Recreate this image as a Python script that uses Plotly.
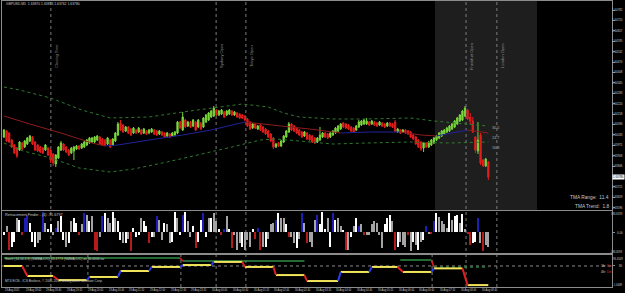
import numpy as np
import plotly.graph_objects as go

SYMBOL = "GBPUSD,M5"
BASE = 1.6  # candle prices stored as points (1e-5) above 1.60000

O_PTS = [4020, 4056, 4044, 4002, 3972, 3954, 3942, 3984, 3960, 3978,
         3996, 4020, 3990, 3972, 3960, 3954, 3942, 3954, 3942, 3918,
         3858, 3894, 3942, 3978, 3960, 3942, 3924, 3936, 3948, 3966,
         3954, 3960, 3972, 3984, 3990, 3990, 4002, 4020, 4008, 4002,
         3978, 4002, 3972, 3996, 4032, 4104, 4092, 4056, 4080, 4068,
         4044, 4062, 4050, 4062, 4044, 4056, 4044, 4050, 4062, 4056,
         4038, 4050, 4044, 4026, 4038, 4026, 4032, 4044, 4110, 4062,
         4122, 4086, 4110, 4086, 4110, 4080, 4104, 4080, 4110, 4122,
         4140, 4146, 4182, 4152, 4158, 4170, 4152, 4158, 4176, 4152,
         4164, 4158, 4152, 4146, 4128, 4110, 4074, 4098, 4068, 4092,
         4080, 4068, 4056, 4038, 4014, 3960, 3984, 3966, 3990, 4020,
         4050, 4098, 4086, 4074, 4062, 4050, 4026, 4044, 4032, 4026,
         4014, 3990, 4002, 4020, 4044, 4038, 4020, 4032, 4044, 4056,
         4068, 4104, 4098, 4092, 4080, 4074, 4062, 4080, 4092, 4098,
         4098, 4110, 4098, 4110, 4104, 4092, 4104, 4098, 4086, 4104,
         4098, 4110, 4050, 4062, 4050, 4062, 4056, 4050, 4032, 4020,
         4002, 3990, 3954, 3984, 3960, 3972, 3984, 4002, 4014, 4026,
         4038, 4050, 4056, 4068, 4080, 4098, 4116, 4122, 4146, 4182,
         4140, 4116, 4020, 3936, 4032, 3882, 3846, 3870]
H_PTS = [4068, 4062, 4050, 4008, 3978, 3960, 3996, 3990, 4002, 4020,
         4032, 4026, 3996, 3978, 3966, 3960, 3978, 3960, 3948, 3924,
         3918, 3966, 3996, 3984, 3966, 3948, 3960, 3966, 3972, 3972,
         3984, 3996, 4008, 4020, 4020, 4026, 4032, 4026, 4014, 4008,
         4020, 4008, 4014, 4050, 4110, 4122, 4098, 4086, 4086, 4074,
         4080, 4068, 4080, 4068, 4074, 4062, 4068, 4074, 4068, 4062,
         4062, 4056, 4050, 4050, 4044, 4050, 4056, 4116, 4116, 4170,
         4128, 4116, 4116, 4128, 4116, 4128, 4110, 4140, 4158, 4170,
         4182, 4206, 4188, 4182, 4188, 4176, 4182, 4188, 4182, 4176,
         4170, 4164, 4158, 4152, 4134, 4116, 4104, 4104, 4092, 4098,
         4086, 4074, 4062, 4044, 4020, 3984, 3990, 4002, 4032, 4062,
         4110, 4104, 4092, 4080, 4068, 4056, 4056, 4050, 4038, 4032,
         4020, 4020, 4080, 4050, 4050, 4044, 4050, 4062, 4080, 4092,
         4104, 4110, 4104, 4098, 4086, 4080, 4092, 4122, 4122, 4128,
         4134, 4116, 4122, 4116, 4110, 4116, 4110, 4104, 4110, 4110,
         4104, 4122, 4074, 4068, 4068, 4068, 4062, 4056, 4038, 4026,
         4008, 3996, 3990, 3990, 3996, 4008, 4020, 4032, 4050, 4062,
         4068, 4080, 4092, 4104, 4122, 4140, 4158, 4182, 4206, 4188,
         4164, 4140, 4026, 4110, 4044, 3888, 3894, 3876]
L_PTS = [4014, 3990, 3984, 3954, 3918, 3894, 3936, 3942, 3954, 3972,
         3990, 3972, 3936, 3930, 3924, 3918, 3936, 3906, 3864, 3846,
         3840, 3888, 3936, 3936, 3924, 3906, 3918, 3882, 3942, 3942,
         3948, 3954, 3966, 3978, 3984, 3984, 3996, 3972, 3966, 3966,
         3972, 3954, 3966, 3990, 4026, 4056, 4044, 4050, 4038, 4026,
         4038, 4038, 4044, 4032, 4038, 4032, 4038, 4044, 4032, 4026,
         4032, 4026, 4014, 4020, 4014, 4020, 4026, 4038, 4068, 4056,
         4074, 4080, 4074, 4080, 4056, 4074, 4062, 4074, 4104, 4116,
         4134, 4140, 4146, 4146, 4152, 4134, 4146, 4152, 4146, 4146,
         4134, 4128, 4128, 4116, 4080, 4062, 4068, 4068, 4062, 4056,
         4044, 4032, 4014, 3990, 3948, 3954, 3960, 3960, 3984, 4014,
         4044, 4056, 4050, 4038, 4026, 4014, 4020, 4002, 3996, 3984,
         3978, 3984, 3996, 4014, 4014, 4008, 4014, 4026, 4038, 4050,
         4062, 4074, 4068, 4062, 4050, 4044, 4056, 4074, 4086, 4092,
         4092, 4086, 4092, 4086, 4080, 4086, 4080, 4074, 4080, 4080,
         4074, 4050, 4044, 4038, 4044, 4038, 4032, 4014, 4002, 3972,
         3954, 3936, 3930, 3954, 3954, 3966, 3978, 3996, 4008, 4020,
         4032, 4044, 4050, 4062, 4074, 4092, 4110, 4116, 4140, 4122,
         4092, 4044, 3924, 3918, 3852, 3840, 3840, 3762]
C_PTS = [4062, 3996, 3990, 3960, 3924, 3906, 3990, 3948, 3996, 4014,
         4026, 3978, 3942, 3936, 3930, 3924, 3972, 3912, 3882, 3864,
         3912, 3960, 3984, 3942, 3930, 3912, 3954, 3960, 3966, 3948,
         3978, 3990, 4002, 4014, 4014, 4020, 4026, 3978, 3972, 3972,
         4014, 3960, 4008, 4044, 4098, 4062, 4050, 4080, 4044, 4032,
         4074, 4044, 4074, 4038, 4068, 4038, 4062, 4068, 4038, 4032,
         4056, 4032, 4020, 4044, 4020, 4044, 4050, 4110, 4074, 4140,
         4080, 4110, 4080, 4122, 4062, 4122, 4068, 4134, 4152, 4164,
         4176, 4194, 4152, 4176, 4182, 4140, 4176, 4182, 4152, 4170,
         4140, 4134, 4134, 4122, 4086, 4068, 4098, 4074, 4086, 4062,
         4050, 4038, 4020, 3996, 3960, 3978, 3966, 3996, 4026, 4056,
         4098, 4062, 4056, 4044, 4032, 4020, 4050, 4008, 4002, 3990,
         3984, 4014, 4032, 4044, 4020, 4014, 4044, 4056, 4074, 4086,
         4098, 4080, 4074, 4068, 4056, 4050, 4086, 4110, 4116, 4122,
         4116, 4092, 4116, 4092, 4086, 4110, 4086, 4080, 4104, 4086,
         4080, 4056, 4068, 4044, 4062, 4044, 4038, 4020, 4008, 3978,
         3960, 3948, 3984, 3960, 3990, 4002, 4014, 4026, 4044, 4056,
         4062, 4074, 4086, 4098, 4116, 4134, 4152, 4176, 4194, 4128,
         4116, 4050, 3942, 4002, 3864, 3846, 3888, 3780]

# TMA bands / centre line (bar index, points above 1.6)
UPPER_IDX = [0, 6, 18, 30, 41, 56, 69, 80, 92, 102, 108, 114, 127, 140, 157, 166, 175, 187]
UPPER_PTS = [4320, 4302, 4254, 4182, 4134, 4140, 4170, 4194, 4218, 4200, 4164, 4140, 4128, 4128, 4134, 4116, 4104, 4086]
LOWER_IDX = [0, 6, 18, 29, 41, 50, 63, 80, 88, 99, 105, 114, 127, 140, 157, 172, 187]
LOWER_PTS = [3984, 3942, 3894, 3834, 3810, 3828, 3870, 3930, 3960, 4002, 4008, 3996, 3978, 3984, 3990, 3984, 3990]
CENTER_IDX = [0, 10, 22, 34, 39, 44, 56, 69, 80, 93, 107, 118, 130, 141, 153, 161, 167, 179, 187]
CENTER_PTS = [4146, 4098, 4044, 3984, 3966, 3972, 4002, 4032, 4062, 4110, 4086, 4068, 4044, 4050, 4050, 4032, 4026, 4062, 4044]

TMA_LEVEL_TEXT = ["30.5", "24.7", "16.8"]
TMA_LEVEL_PTS = [4074, 4014, 3954]
TMA_RANGE = "11.4"
TMA_TREND = "1.8"

PRICE_TICKS = [1.64782, 1.64720, 1.64657, 1.64595, 1.64532, 1.64470, 1.64408, 1.64345,
               1.64283, 1.64220, 1.64158, 1.64096, 1.64033, 1.63971, 1.63908, 1.63846,
               1.63784, 1.63721, 1.63659, 1.63596]

# Retracement Finder histogram
HIST_VALS = [-31, 54, -158, -130, -88, 124, 110, -31, 124, 153,
             82, -88, -130, -102, -74, 181, 82, 25, 68, -31,
             40, 96, 139, -74, -130, -102, 96, 124, 82, -31,
             68, 167, 153, 96, 139, -158, -172, -45, 139, 167,
             124, 82, 181, 124, 96, -74, -102, -102, -59, -172,
             40, -45, -31, 124, 96, 54, -102, -45, -45, 139,
             110, -74, 82, 68, -102, -88, 181, 124, -31, 153,
             181, 96, -45, 54, -144, -88, 110, 167, -45, 124,
             124, 167, 96, 25, -31, 25, 139, 25, -144, -31,
             -158, -102, -130, -158, -74, -130, 25, -59, 40, -158,
             -130, -130, -59, 68, 82, 110, 167, 124, 124, 68,
             -45, -45, -102, -144, -59, 167, 82, -102, -88, -130,
             110, 153, 68, 181, 25, 124, -130, 167, 110, 124,
             54, 11, -158, -158, -45, 54, 124, 54, 68, -31,
             -31, -31, 68, 96, 82, -31, -144, 68, 124, 153,
             96, -158, -130, -88, -116, -130, -31, -172, -88, -116,
             -158, -88, -74, 54, -17, -11, 96, 167, 130, 96,
             68, 40, 167, 110, 139, 153, 82, 158, 25, -17,
             -116, -102, -88, 124, -102, -172, -116, -130]
HIST_KIND = ("WGRWWGWRBB" "WWWGGBGWWG" "BGWWGWGWWR" "GBGWGRRGBW" "GGWGWWGWGR"
             "WWWGWWRWGB" "GGWGGWWGWB" "WGGWRWWBWG" "WGGWRBGWRG" "GGWGGGWRBR"
             "GWGGGBWGGW" "RGGWGBGRGG" "GBWWWGWBWG" "GWRGWGWBGR" "GGGGGGGWWW"
             "GRWGGGRGWG" "WGWBGRBWGG" "GGWGWWGWGR" "RWWBGRGG")
HIST_MAX = 186.6593
HIST_TITLE = "Retracement Finder - (4) -91.6797"

# MTF stochastic steps (bar ranges and levels)
STEP_START = [0, 9, 21, 33, 45, 57, 69, 81, 93, 105, 117, 130, 142, 154, 166, 179]
STEP_END = [7, 19, 32, 44, 56, 68, 80, 92, 104, 116, 129, 141, 152, 165, 177, 187]
STEP_LEVEL = [80, 38, 21, 34, 59, 76, 84, 97, 76, 42, 17, 55, 76, 55, 70, 0]
HTF_START = [0, 69, 153, 166]
HTF_END = [68, 116, 165, 187]
HTF_LEVEL = [113, 101, 105, 76]
STOCH_LEVEL = 80
STOCH_MAX_LABEL = "96.4569"
STOCH_MIN_LABEL = "-1.6469"

SESSIONS = [("Closing Time", 18.1), ("Sydney Open", 81.9), ("Tokyo Open", 93.4),
            ("Frankfurt Open", 178.4), ("London Open", 190.3)]
SHADE = (166.4, 205.8)
STOCH_MARKS = [32.4, 68.3, 165.3]

TIME_LABELS = ["29 Aug 2011", "29 Aug 18:00", "29 Aug 18:40", "29 Aug 19:20", "29 Aug 20:00",
               "29 Aug 20:40", "29 Aug 21:20", "29 Aug 22:00", "29 Aug 22:40", "29 Aug 23:20",
               "30 Aug 00:00", "30 Aug 00:40", "30 Aug 01:20", "30 Aug 02:00", "30 Aug 02:40",
               "30 Aug 03:20", "30 Aug 04:00", "30 Aug 04:40", "30 Aug 05:20", "30 Aug 06:00",
               "30 Aug 06:40", "30 Aug 07:20", "30 Aug 08:00", "30 Aug 08:40"]
TIME_LABEL_EVERY = 8

# ---------------------------------------------------------------
W, H = 625, 293
def py(pix):
    return 1 - pix / H

o = BASE + np.array(O_PTS) / 1e5
hh = BASE + np.array(H_PTS) / 1e5
ll = BASE + np.array(L_PTS) / 1e5
c = BASE + np.array(C_PTS) / 1e5
idx = np.arange(len(o))

XR = [-0.77, 234.75]
XDOM = [2 / W, 612 / W]
DOM_MAIN = [py(210), py(1)]
DOM_HIST = [py(253), py(211)]
DOM_STO = [py(287), py(255)]
YR_MAIN = [1.64842 - 0.00006 * 210, 1.64842 - 0.00006 * 1]
RIGHT_EDGE = 624.6 / W

INC, DEC = "#7ad63c", "#e21e1e"
GRID = "#8c8c8c"
TXT = "#c8c8c8"
FONT = "Liberation Sans"

fig = go.Figure()

# TMA bands
for bx, bp in ((UPPER_IDX, UPPER_PTS), (LOWER_IDX, LOWER_PTS)):
    fig.add_trace(go.Scatter(x=bx, y=BASE + np.array(bp) / 1e5, mode="lines",
                             line=dict(color="#2e7a2e", width=1, dash="dot"), hoverinfo="skip",
                             showlegend=False, xaxis="x", yaxis="y"))
# centre line coloured by direction
cen = BASE + np.array(CENTER_PTS) / 1e5
segs = {"up": ([], []), "dn": ([], [])}
for k in range(len(CENTER_IDX) - 1):
    key = "up" if cen[k + 1] >= cen[k] else "dn"
    segs[key][0].extend([CENTER_IDX[k], CENTER_IDX[k + 1], None])
    segs[key][1].extend([cen[k], cen[k + 1], None])
fig.add_trace(go.Scatter(x=segs["dn"][0], y=segs["dn"][1], mode="lines",
                         line=dict(color="#8e1c1c", width=1), hoverinfo="skip",
                         showlegend=False, xaxis="x", yaxis="y"))
fig.add_trace(go.Scatter(x=segs["up"][0], y=segs["up"][1], mode="lines",
                         line=dict(color="#22229a", width=1), hoverinfo="skip",
                         showlegend=False, xaxis="x", yaxis="y"))

fig.add_trace(go.Candlestick(x=idx, open=o, high=hh, low=ll, close=c,
                             increasing=dict(line=dict(color=INC, width=1), fillcolor=INC),
                             decreasing=dict(line=dict(color=DEC, width=1), fillcolor=DEC),
                             whiskerwidth=0, showlegend=False, hoverinfo="skip",
                             xaxis="x", yaxis="y"))

# histogram
kind_col = {"W": "#ffffff", "G": "#a4a4a4", "B": "#1e1eb4", "R": "#b41c1c"}
fig.add_trace(go.Bar(x=idx, y=HIST_VALS, width=0.45,
                     marker=dict(color=[kind_col[k] for k in HIST_KIND], line=dict(width=0)),
                     hoverinfo="skip", showlegend=False, xaxis="x2", yaxis="y2"))

# stochastic steps: flat runs, plus a red/blue link between adjacent runs
def step_traces(starts, ends, levels):
    flat, up, dn = ([], []), ([], []), ([], [])
    for k in range(len(starts)):
        flat[0].extend([starts[k], ends[k], None])
        flat[1].extend([levels[k], levels[k], None])
        if k + 1 < len(starts) and starts[k + 1] - ends[k] <= 3:
            tgt = up if levels[k + 1] > levels[k] else dn
            tgt[0].extend([ends[k], starts[k + 1], None])
            tgt[1].extend([levels[k], levels[k + 1], None])
    return flat, up, dn

hf, hu, hd = step_traces(HTF_START, HTF_END, HTF_LEVEL)
fig.add_trace(go.Scatter(x=hf[0][:-3], y=hf[1][:-3], mode="lines", line=dict(color="#2f8c46", width=1.5),
                         hoverinfo="skip", showlegend=False, xaxis="x3", yaxis="y3"))
fig.add_trace(go.Scatter(x=hf[0][-3:], y=hf[1][-3:], mode="lines",
                         line=dict(color="#2f7a40", width=1.5, dash="dot"),
                         hoverinfo="skip", showlegend=False, xaxis="x3", yaxis="y3"))
for tr, col in ((hu, "#2a3cf0"), (hd, "#e02020")):
    if tr[0]:
        fig.add_trace(go.Scatter(x=tr[0], y=tr[1], mode="lines", line=dict(color=col, width=1.5),
                                 hoverinfo="skip", showlegend=False, xaxis="x3", yaxis="y3"))

sf, su, sd = step_traces(STEP_START, STEP_END, STEP_LEVEL)
fig.add_trace(go.Scatter(x=sf[0], y=sf[1], mode="lines", line=dict(color="#f2e45a", width=2),
                         hoverinfo="skip", showlegend=False, xaxis="x3", yaxis="y3"))
fig.add_trace(go.Scatter(x=su[0], y=su[1], mode="lines", line=dict(color="#2a3cf0", width=2),
                         hoverinfo="skip", showlegend=False, xaxis="x3", yaxis="y3"))
fig.add_trace(go.Scatter(x=sd[0], y=sd[1], mode="lines", line=dict(color="#e02020", width=2),
                         hoverinfo="skip", showlegend=False, xaxis="x3", yaxis="y3"))

shapes = []
shapes.append(dict(type="rect", xref="x", yref="paper", x0=SHADE[0], x1=SHADE[1],
                   y0=DOM_MAIN[0], y1=DOM_MAIN[1], fillcolor="#1e1e1e", line=dict(width=0), layer="below"))
for name, pos in SESSIONS:
    shapes.append(dict(type="line", xref="x", yref="paper", x0=pos, x1=pos, y0=DOM_STO[0], y1=DOM_MAIN[1],
                       line=dict(color="#7c7c7c", width=1, dash="dot"), layer="below"))
for pos in STOCH_MARKS:
    shapes.append(dict(type="line", xref="x", yref="paper", x0=pos, x1=pos, y0=DOM_STO[0], y1=DOM_STO[1],
                       line=dict(color="#7c7c7c", width=1, dash="dot"), layer="below"))
shapes.append(dict(type="line", xref="paper", yref="y3", x0=XDOM[0], x1=XDOM[1], y0=STOCH_LEVEL, y1=STOCH_LEVEL,
                   line=dict(color="#8a8a8a", width=1, dash="dot"), layer="below"))

ann = []
def t(x, y, text, size=3.6, color=TXT, xanchor="left", yanchor="middle", xref="paper", yref="paper", **kw):
    ann.append(dict(x=x, y=y, text=text, xref=xref, yref=yref, showarrow=False, xanchor=xanchor,
                    yanchor=yanchor, font=dict(family=FONT, size=size, color=color), **kw))

t(0.006, py(4), f"{SYMBOL}  {o[-1]:.5f} {hh[-1]:.5f} {ll[-1]:.5f} {c[-1]:.5f}", size=3.4)
for name, pos in SESSIONS:
    t(pos + 0.5, py(56), name, size=4.0, color="#8e8e8e", xref="x", textangle=-90)
for txt, pts in zip(TMA_LEVEL_TEXT, TMA_LEVEL_PTS):
    t(187.8, BASE + pts / 1e5, txt, size=3.8, color="#a8a8a8", xref="x", yref="y")
t(611 / W, py(198), f"TMA Range:  {TMA_RANGE}", size=4.8, xanchor="right")
t(611 / W, py(206), f"TMA Trend:  {TMA_TREND}", size=4.8, xanchor="right")

# right-hand price scale labels (right-aligned inside the picture)
for v in PRICE_TICKS:
    if abs(v - c[-1]) > 0.0002:
        t(RIGHT_EDGE, v, f"{v:.5f}", size=2.9, xanchor="right", yref="y")
t(RIGHT_EDGE, c[-1], f"{c[-1]:.5f}", size=2.9, color="#000000", xanchor="right", yref="y",
  bgcolor="#ffffff", borderpad=0)

t(0.005, py(215), HIST_TITLE, size=3.8)
t(RIGHT_EDGE, py(213.5), f"{HIST_MAX:.4f}", size=2.7, xanchor="right")
t(RIGHT_EDGE, py(233), "0.00", size=2.9, xanchor="right")
t(RIGHT_EDGE, py(252), f"-{HIST_MAX:.4f}", size=2.7, xanchor="right")
t(RIGHT_EDGE, py(258.5), STOCH_MAX_LABEL, size=2.7, xanchor="right")
t(RIGHT_EDGE, py(266), str(STOCH_LEVEL), size=2.9, xanchor="right")
t(RIGHT_EDGE, py(285), STOCH_MIN_LABEL, size=2.7, xanchor="right")
t(0.005, py(258.5), "Stoch (14,14,3,3) (SMMA,C/C) 63.1773 (SMMA,C/C) as 80.0000 ea", size=3.3)
t(0.005, py(281), "MT4 ECN - ICS Brokers, \u00a9 2001-2011 MetaQuotes Software Corp.", size=3.3)
t(599 / W, py(266), "1h: <span style='color:#e02828'>Dn</span>", size=3.6)
t(599 / W, py(271.5), "4h: <span style='color:#e02828'>Dn</span>", size=3.6)
for k, lab in enumerate(TIME_LABELS):
    t(k * TIME_LABEL_EVERY - 0.4, py(290), lab, size=2.6, xref="x")

axis_common = dict(showgrid=False, zeroline=False, showline=True, mirror=True, linecolor=GRID, linewidth=1)
yaxis_common = dict(side="right", ticks="outside", ticklen=2, tickcolor=GRID, showticklabels=False,
                    automargin=False, **axis_common)
fig.update_layout(
    width=W, height=H, margin=dict(l=0, r=0, t=0, b=0),
    paper_bgcolor="#000000", plot_bgcolor="#000000",
    showlegend=False, bargap=0,
    font=dict(family=FONT, color=TXT, size=3.6),
    xaxis=dict(domain=XDOM, range=XR, anchor="y", showticklabels=False, ticks="",
               rangeslider=dict(visible=False), **axis_common),
    xaxis2=dict(domain=XDOM, range=XR, anchor="y2", matches="x", showticklabels=False, ticks="", **axis_common),
    xaxis3=dict(domain=XDOM, range=XR, anchor="y3", matches="x", showticklabels=False, ticks="", **axis_common),
    yaxis=dict(domain=DOM_MAIN, range=YR_MAIN, anchor="x", tickvals=PRICE_TICKS, **yaxis_common),
    yaxis2=dict(domain=DOM_HIST, range=[-HIST_MAX, HIST_MAX], anchor="x2", tickvals=[0], **yaxis_common),
    yaxis3=dict(domain=DOM_STO, range=[-8, 126], anchor="x3", tickvals=[STOCH_LEVEL], **yaxis_common),
    shapes=shapes, annotations=ann,
)

fig.write_html("out.html")
